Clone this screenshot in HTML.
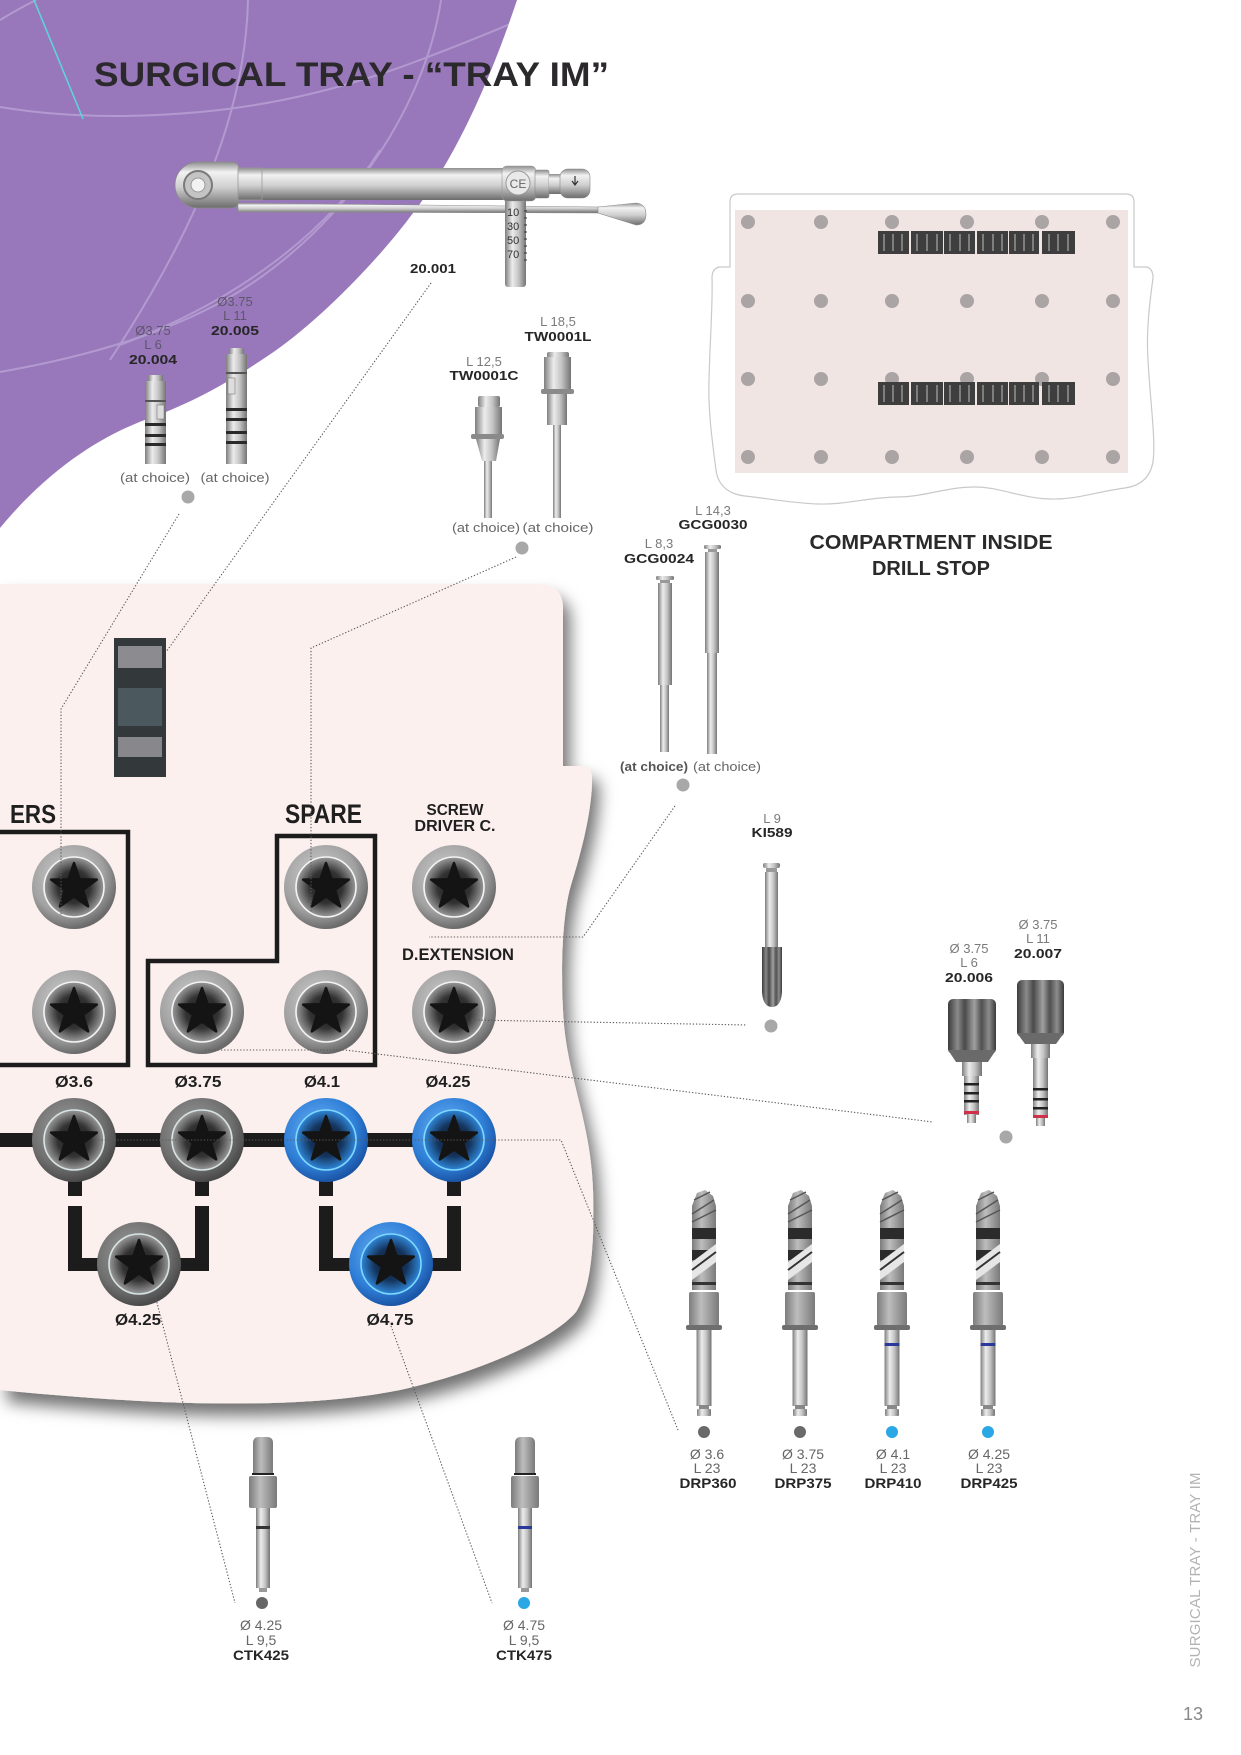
<!DOCTYPE html>
<html><head><meta charset="utf-8">
<style>
html,body{margin:0;padding:0;background:#fff;}
svg{display:block;}
text{font-family:"Liberation Sans",sans-serif;}
.n{font-family:"Liberation Sans Narrow","Liberation Sans",sans-serif;font-weight:bold;fill:#1f1f1f;}
.g{font-size:13px;fill:#7a7a7a;}
.gp{font-size:13px;fill:#5e566c;}
.b{font-size:13px;font-weight:bold;fill:#262626;}
.c{font-size:13px;fill:#666;}
.dl{fill:none;stroke:#5a5a5a;stroke-width:1.1;stroke-dasharray:1.3 1.9;}
</style></head><body>
<svg width="1241" height="1755" viewBox="0 0 1241 1755" xmlns="http://www.w3.org/2000/svg">
<defs>
 <linearGradient id="steelV" x1="0" y1="0" x2="0" y2="1">
  <stop offset="0" stop-color="#8e8e8e"/><stop offset="0.22" stop-color="#f2f2f2"/>
  <stop offset="0.55" stop-color="#cfcfcf"/><stop offset="1" stop-color="#6c6c6c"/>
 </linearGradient>
 <linearGradient id="steelH" x1="0" y1="0" x2="1" y2="0">
  <stop offset="0" stop-color="#7e7e7e"/><stop offset="0.35" stop-color="#ececec"/>
  <stop offset="0.65" stop-color="#c4c4c4"/><stop offset="1" stop-color="#747474"/>
 </linearGradient>
 <linearGradient id="matteH" x1="0" y1="0" x2="1" y2="0">
  <stop offset="0" stop-color="#7c7c7c"/><stop offset="0.4" stop-color="#bdbdbd"/>
  <stop offset="1" stop-color="#7a7a7a"/>
 </linearGradient>
 <linearGradient id="darkH" x1="0" y1="0" x2="1" y2="0">
  <stop offset="0" stop-color="#3c3c3c"/><stop offset="0.2" stop-color="#8a8a8a"/>
  <stop offset="0.35" stop-color="#4a4a4a"/><stop offset="0.55" stop-color="#a0a0a0"/>
  <stop offset="0.7" stop-color="#505050"/><stop offset="0.85" stop-color="#8c8c8c"/>
  <stop offset="1" stop-color="#3a3a3a"/>
 </linearGradient>
 <radialGradient id="gOut" cx="0.42" cy="0.38" r="0.62">
  <stop offset="0" stop-color="#d2d2d2"/><stop offset="0.7" stop-color="#a2a2a2"/>
  <stop offset="1" stop-color="#6a6a6a"/>
 </radialGradient>
 <radialGradient id="gIn" cx="0.5" cy="0.5" r="0.5">
  <stop offset="0" stop-color="#1a1a1a"/><stop offset="0.55" stop-color="#333"/>
  <stop offset="1" stop-color="#9a9a9a"/>
 </radialGradient>
 <radialGradient id="dOut" cx="0.42" cy="0.38" r="0.62">
  <stop offset="0" stop-color="#a0a0a0"/><stop offset="0.7" stop-color="#707070"/>
  <stop offset="1" stop-color="#4a4a4a"/>
 </radialGradient>
 <radialGradient id="bOut" cx="0.42" cy="0.38" r="0.62">
  <stop offset="0" stop-color="#6fb2f4"/><stop offset="0.7" stop-color="#2f7fd8"/>
  <stop offset="1" stop-color="#1b55a6"/>
 </radialGradient>
 <radialGradient id="bIn" cx="0.5" cy="0.5" r="0.5">
  <stop offset="0" stop-color="#0b1522"/><stop offset="0.55" stop-color="#15355e"/>
  <stop offset="1" stop-color="#2f86d8"/>
 </radialGradient>
 <filter id="sh" x="-10%" y="-10%" width="130%" height="130%">
  <feDropShadow dx="7" dy="12" stdDeviation="8" flood-color="#000" flood-opacity="0.55"/>
 </filter>
 <clipPath id="pc"><path d="M0,0 H517 C497,60 462,150 413,213 C380,258 322,318 275,351 C240,375 200,400 150,418 C100,436 48,470 0,528 Z"/></clipPath>
 <polygon id="star" points="0,-24 5.6,-7.7 22.8,-7.4 9,2.9 14.1,19.4 0,9.5 -14.1,19.4 -9,2.9 -22.8,-7.4 -5.6,-7.7" fill="#141414" stroke="#141414" stroke-width="2.5" stroke-linejoin="round"/>
 <g id="gs"><circle r="42" fill="url(#gOut)"/><circle r="30" fill="url(#gIn)" stroke="#f4f4f4" stroke-width="1.6"/><use href="#star"/></g>
 <g id="ds"><circle r="42" fill="url(#dOut)"/><circle r="30" fill="url(#gIn)" stroke="#d8e4e4" stroke-width="1.6"/><use href="#star"/></g>
 <g id="bs"><circle r="42" fill="url(#bOut)"/><circle r="30" fill="url(#bIn)" stroke="#7fd8ff" stroke-width="1.6"/><use href="#star"/></g>
 <g id="drill">
  <path d="M-12,1206 L-7,1193 L1,1190 L9,1196 L12,1206 V1290 H-12 Z" fill="url(#matteH)"/>
  <path d="M-10,1200 L6,1192 M-12,1214 L10,1200 M-12,1222 L12,1210" stroke="#555" stroke-width="1.5"/>
  <rect x="-12" y="1228" width="24" height="11" fill="#2b2b2b"/>
  <rect x="-12" y="1250" width="24" height="10" fill="#2b2b2b"/>
  <polygon points="-12,1262 12,1244 12,1262 -12,1280" fill="#e6e6e6"/>
  <path d="M-12,1270 L12,1252" stroke="#333" stroke-width="2"/>
  <rect x="-12" y="1282" width="24" height="3" fill="#333"/>
  <rect x="-15" y="1292" width="30" height="34" rx="2" fill="url(#matteH)"/>
  <rect x="-18" y="1325" width="36" height="5" rx="2" fill="#6e6e6e"/>
  <rect x="-7.5" y="1330" width="15" height="76" fill="url(#steelH)"/>
  <rect x="-5" y="1405" width="10" height="4" fill="#888"/>
  <rect x="-7" y="1409" width="14" height="7" rx="1" fill="url(#steelH)"/>
 </g>
 <g id="ctk">
  <path d="M-10,1443 Q-10,1437 -4,1437 H4 Q10,1437 10,1443 V1474 H-10 Z" fill="url(#matteH)"/>
  <rect x="-11" y="1473" width="22" height="2" fill="#222"/>
  <rect x="-14" y="1476" width="28" height="32" rx="2" fill="url(#matteH)"/>
  <rect x="-7" y="1508" width="14" height="80" fill="url(#steelH)"/>
  <rect x="-4" y="1588" width="8" height="4" fill="#999"/>
 </g>
</defs>

<rect width="1241" height="1755" fill="#fff"/>

<!-- purple background -->
<path d="M0,0 H517 C497,60 462,150 413,213 C380,258 322,318 275,351 C240,375 200,400 150,418 C100,436 48,470 0,528 Z" fill="#9878ba"/>
<g clip-path="url(#pc)" fill="none" stroke="#b9a3d6" stroke-width="2" opacity="0.8">
 <path d="M0,107 Q90,122 200,112 T420,60 T560,0"/>
 <path d="M248,0 C246,90 215,200 110,360"/>
 <path d="M441,0 C425,110 340,235 225,300 C160,336 80,358 0,372"/>
 <path d="M0,20 Q20,8 36,0"/>
 <path d="M380,150 C330,230 240,300 120,345"/>
</g>
<path d="M34,0 L83,119" stroke="#5fd3dc" stroke-width="1.6" fill="none"/>

<text x="94" y="86" font-size="34" font-weight="bold" fill="#2c292d" textLength="515" lengthAdjust="spacingAndGlyphs">SURGICAL TRAY - “TRAY IM”</text>

<!-- torque wrench -->
<g>
 <path d="M198,162 H232 Q239,162 239,170 V200 Q239,208 231,208 H198 A23,23 0 0 1 198,162 Z" fill="url(#steelV)" stroke="#8a8a8a" stroke-width="0.8"/>
 <circle cx="198" cy="185" r="14" fill="#c4c4c4" stroke="#7a7a7a" stroke-width="2"/>
 <circle cx="198" cy="185" r="7" fill="#f2f2f2" stroke="#999" stroke-width="1"/>
 <rect x="238" y="168" width="266" height="32" fill="url(#steelV)"/>
 <rect x="238" y="168" width="24" height="32" fill="url(#steelV)" stroke="#9a9a9a" stroke-width="0.8"/>
 <polygon points="238,203 600,207 600,213 238,212" fill="url(#steelV)" stroke="#8a8a8a" stroke-width="0.5"/>
 <path d="M598,207 L636,203 Q646,204 646,214 Q646,225 636,225 L598,213 Z" fill="url(#steelV)" stroke="#8a8a8a" stroke-width="0.6"/>
 <rect x="505" y="198" width="21" height="89" rx="3" fill="url(#steelH)"/>
 <g font-size="11" fill="#333"><text x="507" y="216">10</text><text x="507" y="230">30</text><text x="507" y="244">50</text><text x="507" y="258">70</text></g>
 <path d="M524,211 h3 M524,218 h3 M524,225 h3 M524,232 h3 M524,239 h3 M524,246 h3 M524,253 h3 M524,260 h3" stroke="#333" stroke-width="1"/>
 <rect x="502" y="166" width="34" height="35" rx="5" fill="url(#steelV)" stroke="#999" stroke-width="0.6"/>
 <circle cx="518" cy="183" r="12" fill="#e9e9e9" stroke="#9a9a9a"/>
 <text x="518" y="188" font-size="12" text-anchor="middle" fill="#666">CE</text>
 <rect x="535" y="170" width="14" height="28" rx="2" fill="url(#steelV)" stroke="#888" stroke-width="0.6"/>
 <rect x="549" y="174" width="12" height="20" fill="url(#steelV)"/>
 <rect x="560" y="169" width="30" height="29" rx="8" fill="url(#steelV)" stroke="#888" stroke-width="0.6"/>
 <path d="M575,176 v8 m-3,-3 l3,4 l3,-4" stroke="#333" stroke-width="1.2" fill="none"/>
</g>
<text x="433" y="273" class="b" text-anchor="middle" textLength="46" lengthAdjust="spacingAndGlyphs">20.001</text>

<!-- 20.004 / 20.005 -->
<text x="153" y="335" class="gp" text-anchor="middle">Ø3.75</text>
<text x="153" y="349" class="gp" text-anchor="middle">L 6</text>
<text x="153" y="364" class="b" text-anchor="middle" textLength="48" lengthAdjust="spacingAndGlyphs">20.004</text>
<text x="235" y="306" class="gp" text-anchor="middle">Ø3.75</text>
<text x="235" y="320" class="gp" text-anchor="middle">L 11</text>
<text x="235" y="335" class="b" text-anchor="middle" textLength="48" lengthAdjust="spacingAndGlyphs">20.005</text>
<g>
 <rect x="148" y="375" width="15" height="7" rx="1" fill="url(#steelH)"/>
 <rect x="145" y="381" width="21" height="83" fill="url(#steelH)"/>
 <rect x="145" y="400" width="21" height="2" fill="#555"/>
 <rect x="157" y="405" width="7" height="14" fill="#ddd" stroke="#666" stroke-width="0.5"/>
 <rect x="145" y="423" width="21" height="3" fill="#2a2a2a"/>
 <rect x="145" y="434" width="21" height="3" fill="#2a2a2a"/>
 <rect x="145" y="443" width="21" height="3" fill="#2a2a2a"/>
 <rect x="229" y="348" width="15" height="7" rx="1" fill="url(#steelH)"/>
 <rect x="226" y="354" width="21" height="110" fill="url(#steelH)"/>
 <rect x="226" y="372" width="21" height="2" fill="#555"/>
 <rect x="228" y="378" width="7" height="16" fill="#ddd" stroke="#666" stroke-width="0.5"/>
 <rect x="226" y="408" width="21" height="3" fill="#2a2a2a"/>
 <rect x="226" y="418" width="21" height="3" fill="#2a2a2a"/>
 <rect x="226" y="431" width="21" height="3" fill="#2a2a2a"/>
 <rect x="226" y="441" width="21" height="3" fill="#2a2a2a"/>
</g>
<text x="155" y="482" class="c" text-anchor="middle" textLength="70" lengthAdjust="spacingAndGlyphs">(at choice)</text>
<text x="235" y="482" class="c" text-anchor="middle" textLength="69" lengthAdjust="spacingAndGlyphs">(at choice)</text>
<circle cx="188" cy="497" r="6.5" fill="#a8a8a8"/>

<!-- TW0001 -->
<text x="484" y="366" class="g" text-anchor="middle">L 12,5</text>
<text x="484" y="380" class="b" text-anchor="middle" textLength="69" lengthAdjust="spacingAndGlyphs">TW0001C</text>
<text x="558" y="326" class="g" text-anchor="middle">L 18,5</text>
<text x="558" y="341" class="b" text-anchor="middle" textLength="67" lengthAdjust="spacingAndGlyphs">TW0001L</text>
<g>
 <rect x="478" y="396" width="22" height="11" rx="2" fill="url(#steelH)"/>
 <rect x="475" y="407" width="27" height="29" fill="url(#steelH)"/>
 <rect x="471" y="434" width="33" height="5" rx="2" fill="#8a8a8a"/>
 <path d="M476,439 H500 L496,461 H482 Z" fill="url(#steelH)"/>
 <rect x="484" y="461" width="8" height="57" fill="url(#steelH)"/>
 <rect x="547" y="352" width="22" height="6" rx="2" fill="url(#steelH)"/>
 <rect x="544" y="357" width="27" height="32" fill="url(#steelH)"/>
 <rect x="541" y="389" width="33" height="5" rx="2" fill="#8a8a8a"/>
 <rect x="547" y="394" width="20" height="31" fill="url(#steelH)"/>
 <rect x="553" y="425" width="8" height="93" fill="url(#steelH)"/>
</g>
<text x="486" y="532" class="c" text-anchor="middle" textLength="68" lengthAdjust="spacingAndGlyphs">(at choice)</text>
<text x="558" y="532" class="c" text-anchor="middle" textLength="71" lengthAdjust="spacingAndGlyphs">(at choice)</text>
<circle cx="522" cy="548" r="6.5" fill="#a8a8a8"/>

<!-- compartment -->
<path d="M738,194 H1126 Q1134,194 1134,202 V267 H1146 Q1153,268 1153,278 C1150,300 1146,330 1148,360 C1150,400 1156,440 1153,462 C1150,478 1140,486 1125,488 C1095,492 1075,500 1050,499 C1020,498 1000,487 975,487 C945,487 925,497 897,497 C870,497 845,505 818,504 C790,503 765,498 745,496 C728,494 718,485 716,470 C712,440 708,410 709,380 C710,340 713,300 712,278 Q712,268 720,267 H730 V202 Q730,194 738,194 Z" fill="#fff" stroke="#c9c9c9" stroke-width="1.2"/>
<rect x="735" y="210" width="393" height="263" fill="#f1e5e3"/>
<g fill="#aaa4a4">
 <circle cx="748" cy="222" r="7"/><circle cx="821" cy="222" r="7"/><circle cx="892" cy="222" r="7"/><circle cx="967" cy="222" r="7"/><circle cx="1042" cy="222" r="7"/><circle cx="1113" cy="222" r="7"/>
 <circle cx="748" cy="301" r="7"/><circle cx="821" cy="301" r="7"/><circle cx="892" cy="301" r="7"/><circle cx="967" cy="301" r="7"/><circle cx="1042" cy="301" r="7"/><circle cx="1113" cy="301" r="7"/>
 <circle cx="748" cy="379" r="7"/><circle cx="821" cy="379" r="7"/><circle cx="892" cy="379" r="7"/><circle cx="967" cy="379" r="7"/><circle cx="1042" cy="379" r="7"/><circle cx="1113" cy="379" r="7"/>
 <circle cx="748" cy="457" r="7"/><circle cx="821" cy="457" r="7"/><circle cx="892" cy="457" r="7"/><circle cx="967" cy="457" r="7"/><circle cx="1042" cy="457" r="7"/><circle cx="1113" cy="457" r="7"/>
</g>
<g fill="#3e3e3e">
 <rect x="878" y="231" width="31" height="23"/><rect x="911" y="231" width="32" height="23"/><rect x="944" y="231" width="31" height="23"/><rect x="977" y="231" width="31" height="23"/><rect x="1009" y="231" width="30" height="23"/><rect x="1042" y="231" width="33" height="23"/>
 <rect x="878" y="382" width="31" height="23"/><rect x="911" y="382" width="32" height="23"/><rect x="944" y="382" width="31" height="23"/><rect x="977" y="382" width="31" height="23"/><rect x="1009" y="382" width="30" height="23"/><rect x="1042" y="382" width="33" height="23"/>
</g>
<g stroke="#8f8f8f" stroke-width="2" opacity="0.8">
 <path d="M884,234v17M893,234v17M902,234v17M917,234v17M927,234v17M937,234v17M950,234v17M960,234v17M969,234v17M983,234v17M993,234v17M1002,234v17M1015,234v17M1024,234v17M1033,234v17M1049,234v17M1058,234v17M1068,234v17"/>
 <path d="M884,385v17M893,385v17M902,385v17M917,385v17M927,385v17M937,385v17M950,385v17M960,385v17M969,385v17M983,385v17M993,385v17M1002,385v17M1015,385v17M1024,385v17M1033,385v17M1049,385v17M1058,385v17M1068,385v17"/>
</g>
<text x="931" y="549" font-size="20" font-weight="bold" fill="#2a2a2a" text-anchor="middle" textLength="243" lengthAdjust="spacingAndGlyphs">COMPARTMENT INSIDE</text>
<text x="931" y="575" font-size="20" font-weight="bold" fill="#2a2a2a" text-anchor="middle" textLength="118" lengthAdjust="spacingAndGlyphs">DRILL STOP</text>

<!-- GCG -->
<text x="713" y="515" class="g" text-anchor="middle">L 14,3</text>
<text x="713" y="529" class="b" text-anchor="middle" textLength="69" lengthAdjust="spacingAndGlyphs">GCG0030</text>
<text x="659" y="548" class="g" text-anchor="middle">L 8,3</text>
<text x="659" y="563" class="b" text-anchor="middle" textLength="70" lengthAdjust="spacingAndGlyphs">GCG0024</text>
<g>
 <rect x="656" y="576" width="18" height="4" rx="1.5" fill="url(#steelH)"/>
 <rect x="660" y="580" width="10" height="3" fill="#999"/>
 <rect x="658" y="583" width="14" height="102" fill="url(#steelH)"/>
 <rect x="660" y="685" width="9" height="67" fill="url(#steelH)"/>
 <rect x="704" y="545" width="17" height="4" rx="1.5" fill="url(#steelH)"/>
 <rect x="708" y="549" width="9" height="3" fill="#999"/>
 <rect x="705" y="552" width="14" height="101" fill="url(#steelH)"/>
 <rect x="707" y="653" width="10" height="101" fill="url(#steelH)"/>
</g>
<text x="654" y="771" font-size="13" font-weight="bold" fill="#555" text-anchor="middle" textLength="68" lengthAdjust="spacingAndGlyphs">(at choice)</text>
<text x="727" y="771" class="c" text-anchor="middle" textLength="68" lengthAdjust="spacingAndGlyphs">(at choice)</text>
<circle cx="683" cy="785" r="6.5" fill="#a8a8a8"/>

<!-- KI589 -->
<text x="772" y="823" class="g" text-anchor="middle">L 9</text>
<text x="772" y="837" class="b" text-anchor="middle" textLength="41" lengthAdjust="spacingAndGlyphs">KI589</text>
<g>
 <rect x="763" y="863" width="17" height="5" rx="2" fill="url(#steelH)"/>
 <rect x="766" y="868" width="11" height="4" fill="#999"/>
 <rect x="765" y="872" width="13" height="75" fill="url(#steelH)"/>
 <path d="M762,947 H782 V992 Q781,1007 772,1007 Q763,1007 762,992 Z" fill="url(#darkH)"/>
</g>
<circle cx="771" cy="1026" r="6.5" fill="#a8a8a8"/>

<!-- 20.006 / 20.007 -->
<text x="969" y="953" class="g" text-anchor="middle">Ø 3.75</text>
<text x="969" y="967" class="g" text-anchor="middle">L 6</text>
<text x="969" y="982" class="b" text-anchor="middle" textLength="48" lengthAdjust="spacingAndGlyphs">20.006</text>
<text x="1038" y="929" class="g" text-anchor="middle">Ø 3.75</text>
<text x="1038" y="943" class="g" text-anchor="middle">L 11</text>
<text x="1038" y="958" class="b" text-anchor="middle" textLength="48" lengthAdjust="spacingAndGlyphs">20.007</text>
<g>
 <rect x="948" y="999" width="48" height="55" rx="5" fill="url(#darkH)"/>
 <path d="M948,1050 H996 L988,1062 H956 Z" fill="#6a6a6a"/>
 <rect x="962" y="1062" width="20" height="14" fill="url(#steelH)"/>
 <rect x="964" y="1076" width="15" height="39" fill="url(#steelH)"/>
 <rect x="964" y="1083" width="15" height="2.5" fill="#222"/>
 <rect x="964" y="1092" width="15" height="2.5" fill="#222"/>
 <rect x="964" y="1100" width="15" height="2.5" fill="#222"/>
 <rect x="964" y="1111" width="15" height="3" fill="#d0304a"/>
 <rect x="967" y="1114" width="9" height="9" fill="url(#steelH)"/>
 <rect x="1017" y="980" width="47" height="57" rx="5" fill="url(#darkH)"/>
 <path d="M1017,1033 H1064 L1056,1044 H1025 Z" fill="#6a6a6a"/>
 <rect x="1031" y="1044" width="19" height="14" fill="url(#steelH)"/>
 <rect x="1033" y="1058" width="15" height="60" fill="url(#steelH)"/>
 <rect x="1033" y="1088" width="15" height="2.5" fill="#222"/>
 <rect x="1033" y="1098" width="15" height="2.5" fill="#222"/>
 <rect x="1033" y="1107" width="15" height="2.5" fill="#222"/>
 <rect x="1033" y="1115" width="15" height="3" fill="#d0304a"/>
 <rect x="1036" y="1118" width="9" height="8" fill="url(#steelH)"/>
</g>
<circle cx="1006" cy="1137" r="6.5" fill="#a8a8a8"/>

<!-- tray -->
<path d="M0,584 H538 Q563,584 563,609 V766 H584 Q592,767 592,780 C592,810 582,850 571,885 C562,915 560,975 564,1025 C569,1080 591,1125 593,1190 C595,1250 590,1290 576,1312 C552,1340 480,1372 400,1390 C300,1410 160,1406 0,1390 Z" fill="#fbf0ee" filter="url(#sh)"/>

<!-- block -->
<rect x="114" y="638" width="52" height="139" fill="#33383b"/>
<rect x="118" y="646" width="44" height="22" fill="#8c8c90"/>
<rect x="118" y="688" width="44" height="38" fill="#4b585e"/>
<rect x="118" y="737" width="44" height="20" fill="#88888c"/>

<!-- frames -->
<path d="M0,832 H128 V1065 H0" fill="none" stroke="#1c1c1c" stroke-width="4.5"/>
<path d="M277,836 H375 V1065 H148 V961 H277 Z" fill="none" stroke="#1c1c1c" stroke-width="4.5"/>

<!-- labels on tray -->
<text x="10" y="823" class="n" font-size="26" textLength="46" lengthAdjust="spacingAndGlyphs">ERS</text>
<text x="285" y="823" class="n" font-size="27" textLength="77" lengthAdjust="spacingAndGlyphs">SPARE</text>
<text x="455" y="815" class="n" font-size="16" text-anchor="middle" textLength="57" lengthAdjust="spacingAndGlyphs">SCREW</text>
<text x="455" y="831" class="n" font-size="16" text-anchor="middle" textLength="81" lengthAdjust="spacingAndGlyphs">DRIVER C.</text>
<text x="402" y="960" class="n" font-size="17" textLength="112" lengthAdjust="spacingAndGlyphs">D.EXTENSION</text>
<text x="74" y="1087" class="n" font-size="16" text-anchor="middle" textLength="38" lengthAdjust="spacingAndGlyphs">Ø3.6</text>
<text x="198" y="1087" class="n" font-size="16" text-anchor="middle" textLength="47" lengthAdjust="spacingAndGlyphs">Ø3.75</text>
<text x="322" y="1087" class="n" font-size="16" text-anchor="middle" textLength="36" lengthAdjust="spacingAndGlyphs">Ø4.1</text>
<text x="448" y="1087" class="n" font-size="16" text-anchor="middle" textLength="45" lengthAdjust="spacingAndGlyphs">Ø4.25</text>
<text x="138" y="1325" class="n" font-size="16" text-anchor="middle" textLength="46" lengthAdjust="spacingAndGlyphs">Ø4.25</text>
<text x="390" y="1325" class="n" font-size="16" text-anchor="middle" textLength="47" lengthAdjust="spacingAndGlyphs">Ø4.75</text>

<!-- bars -->
<g fill="#1c1c1c">
 <rect x="0" y="1133" width="413" height="14"/>
 <rect x="68" y="1180" width="14" height="16"/><rect x="68" y="1206" width="14" height="59"/><rect x="68" y="1258" width="34" height="13"/>
 <rect x="195" y="1180" width="14" height="16"/><rect x="195" y="1206" width="14" height="59"/><rect x="176" y="1258" width="33" height="13"/>
 <rect x="319" y="1180" width="14" height="16"/><rect x="319" y="1206" width="14" height="59"/><rect x="319" y="1258" width="34" height="13"/>
 <rect x="447" y="1180" width="14" height="16"/><rect x="447" y="1206" width="14" height="59"/><rect x="428" y="1258" width="33" height="13"/>
</g>

<!-- screws -->
<use href="#gs" x="74" y="887"/>
<use href="#gs" x="326" y="887"/>
<use href="#gs" x="454" y="887"/>
<use href="#gs" x="74" y="1012"/>
<use href="#gs" x="202" y="1012"/>
<use href="#gs" x="326" y="1012"/>
<use href="#gs" x="454" y="1012"/>
<use href="#ds" x="74" y="1140"/>
<use href="#ds" x="202" y="1140"/>
<use href="#bs" x="326" y="1140"/>
<use href="#bs" x="454" y="1140"/>
<use href="#ds" x="139" y="1264"/>
<use href="#bs" x="391" y="1264"/>

<!-- dotted connectors -->
<path class="dl" d="M431,283 L166,652"/>
<path class="dl" d="M179,514 L61,709 V915"/>
<path class="dl" d="M516,557 L311,648 V912"/>
<path class="dl" d="M675,806 L583,937 H429"/>
<path class="dl" d="M472,1020 L747,1025"/>
<path class="dl" d="M205,1050 H345 L933,1122"/>
<path class="dl" d="M95,1140 H561 L678,1430"/>
<path class="dl" d="M156,1299 L235,1603"/>
<path class="dl" d="M391,1326 L492,1603"/>

<!-- DRP drills -->
<use href="#drill" x="704"/>
<use href="#drill" x="800"/>
<use href="#drill" x="892"/>
<use href="#drill" x="988"/>
<rect x="884.5" y="1343" width="15" height="3" fill="#2b3a9a"/>
<rect x="980.5" y="1343" width="15" height="3" fill="#2b3a9a"/>
<circle cx="704" cy="1432" r="6" fill="#6a6a6a"/>
<circle cx="800" cy="1432" r="6" fill="#6a6a6a"/>
<circle cx="892" cy="1432" r="6" fill="#2aa8e6"/>
<circle cx="988" cy="1432" r="6" fill="#2aa8e6"/>
<g font-size="14" text-anchor="middle">
 <text x="707" y="1459" fill="#666">Ø 3.6</text><text x="707" y="1473" fill="#666">L 23</text>
 <text x="803" y="1459" fill="#666">Ø 3.75</text><text x="803" y="1473" fill="#666">L 23</text>
 <text x="893" y="1459" fill="#666">Ø 4.1</text><text x="893" y="1473" fill="#666">L 23</text>
 <text x="989" y="1459" fill="#666">Ø 4.25</text><text x="989" y="1473" fill="#666">L 23</text>
</g>
<g font-size="14" font-weight="bold" fill="#262626" text-anchor="middle">
 <text x="708" y="1488" textLength="57" lengthAdjust="spacingAndGlyphs">DRP360</text>
 <text x="803" y="1488" textLength="57" lengthAdjust="spacingAndGlyphs">DRP375</text>
 <text x="893" y="1488" textLength="57" lengthAdjust="spacingAndGlyphs">DRP410</text>
 <text x="989" y="1488" textLength="57" lengthAdjust="spacingAndGlyphs">DRP425</text>
</g>

<!-- CTK -->
<use href="#ctk" x="263"/>
<use href="#ctk" x="525"/>
<rect x="256" y="1526" width="14" height="3" fill="#333"/>
<rect x="518" y="1526" width="14" height="3" fill="#2b3a9a"/>
<circle cx="262" cy="1603" r="6" fill="#666"/>
<circle cx="524" cy="1603" r="6" fill="#2aa8e6"/>
<g font-size="14" text-anchor="middle" fill="#666">
 <text x="261" y="1630">Ø 4.25</text><text x="261" y="1645">L 9,5</text>
 <text x="524" y="1630">Ø 4.75</text><text x="524" y="1645">L 9,5</text>
</g>
<text x="261" y="1660" font-size="14" font-weight="bold" fill="#262626" text-anchor="middle" textLength="56" lengthAdjust="spacingAndGlyphs">CTK425</text>
<text x="524" y="1660" font-size="14" font-weight="bold" fill="#262626" text-anchor="middle" textLength="56" lengthAdjust="spacingAndGlyphs">CTK475</text>

<!-- side text -->
<text transform="translate(1200,1570) rotate(-90)" font-size="15" fill="#b3b3b3" text-anchor="middle" textLength="195">SURGICAL TRAY - TRAY IM</text>
<text x="1193" y="1720" font-size="18" fill="#888" text-anchor="middle">13</text>
</svg>
</body></html>
